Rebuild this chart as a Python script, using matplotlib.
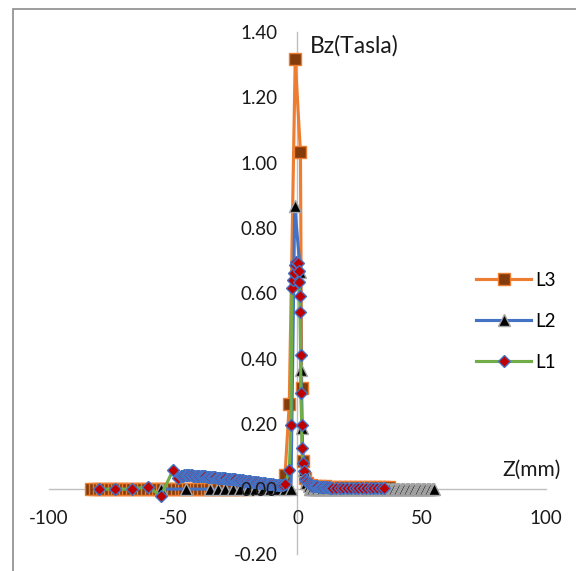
import matplotlib
matplotlib.use("Agg")
import matplotlib.pyplot as plt
from matplotlib.patches import Rectangle

plt.rcParams['font.family'] = ['Lato', 'DejaVu Sans']

# ---------------- data ----------------
# L3 : Bz along line 3
l3_z = [-83, -81.5, -80, -78.5, -77, -75.5, -74, -72.5, -71, -69.5, -68, -66.5,
        -65, -63.5, -62, -60.5, -59, -57.5, -56, -54.5, -53, -51.5, -50, -48.5,
        -47, -45.5, -44, -42.5, -41, -39.5, -38, -36.5, -35, -33.5, -32, -30.5,
        -29, -27.5, -26, -24.5, -23, -20, -16, -12, -9, -7, -5, -3.3, -0.9, 1.2,
        1.7, 2.1, 3.0, 4.0, 5.5, 7, 9, 11, 13, 15, 17, 19, 21, 23, 25, 27, 29,
        31, 33, 35, 37]
l3_b = [0.0] * 41 + [0.0, 0.002, 0.004, 0.006, 0.010, 0.043, 0.260, 1.316, 1.032,
        0.310, 0.087, 0.035, 0.018, 0.012, 0.009, 0.008, 0.008, 0.007, 0.007,
        0.006, 0.006, 0.006, 0.005, 0.005, 0.005, 0.005, 0.005, 0.005, 0.005, 0.005]

# L2 : Bz along line 2
l2_z_left = [-55, -45, -35, -32, -29, -26, -23, -20, -17, -14, -11, -8, -5, -2.6]
l2_b_left = [0.0, 0.0, 0.0, 0.0, 0.0, 0.0, 0.0, 0.0, 0.0, 0.0, 0.0, 0.0, 0.0, 0.0]
l2_z_peak = [-1.1, 1.2, 1.4, 1.8, 2.5, 3.5, 4.5]
l2_b_peak = [0.866, 0.664, 0.365, 0.186, 0.060, 0.020, 0.010]
l2_z_right = [5.0, 5.5, 6.0, 6.5, 7.0, 7.5, 8.0, 8.5, 9.0, 9.5,
              10.0, 10.5, 11.0, 11.5, 12.0, 12.5, 13.0, 13.5, 14.0, 14.5,
              15.0, 15.5, 16.0, 16.5, 17.0, 17.5, 18.0, 18.5, 19.0, 19.5,
              20.0, 20.5, 21.0, 21.5, 22.0, 22.5, 23.0, 23.5, 24.0, 24.5,
              25.0, 25.5, 26.0, 26.5, 27.0, 27.5, 28.0, 28.5, 29.0, 29.5,
              30.0, 30.5, 31.0, 31.5, 32.0, 32.5, 33.0, 33.5, 34.0, 34.5,
              35.0, 35.5, 36.0, 36.5, 37.0, 37.5, 38.0, 38.5, 39.0, 39.5,
              40.0, 40.5, 41.0, 41.5, 42.0, 42.5, 43.0, 43.5, 44.0, 44.5,
              45.0, 45.5, 46.0, 46.5, 47.0, 47.5, 48.0, 48.5, 49.0, 49.5,
              50.0, 50.5, 51.0, 51.5, 52.0, 52.5, 53.0, 53.5, 54.0, 54.5, 55.0]
l2_b_right = [0.0] * 101

# L1 : Bz along line 1
l1_z_left = [-80, -73.3, -66.7, -60, -55, -50, -48]
l1_b_left = [0.0, 0.0, 0.0, 0.007, -0.021, 0.059, 0.033]
l1_z_hump = [-47.0, -46.5, -46.0, -45.5, -45.0, -44.5, -44.0, -43.5, -43.0, -42.5,
             -42.0, -41.5, -41.0, -40.5, -40.0, -39.5, -39.0, -38.5, -38.0, -37.5,
             -37.0, -36.5, -36.0, -35.5, -35.0, -34.5, -34.0, -33.5, -33.0, -32.5,
             -32.0, -31.5, -31.0, -30.5, -30.0, -29.5, -29.0, -28.5, -28.0, -27.5,
             -27.0, -26.5, -26.0, -25.5, -25.0, -24.5, -24.0, -23.5, -23.0, -22.5,
             -22.0, -21.5, -21.0, -20.5, -20.0, -19.5, -19.0, -18.5, -18.0, -17.5,
             -17.0, -16.5, -16.0, -15.5, -15.0, -14.5, -14.0, -13.5, -13.0, -12.5,
             -12.0, -11.5, -11.0, -10.5, -10.0, -9.5, -9.0, -8.5, -8.0, -7.5,
             -7.0, -6.5, -6.0]
l1_b_hump = [0.040, 0.041, 0.041, 0.042, 0.042, 0.042, 0.042, 0.042, 0.042, 0.042,
             0.041, 0.041, 0.041, 0.041, 0.040, 0.040, 0.040, 0.039, 0.039, 0.039,
             0.039, 0.038, 0.038, 0.037, 0.037, 0.037, 0.037, 0.036, 0.036, 0.035,
             0.035, 0.035, 0.035, 0.034, 0.034, 0.033, 0.033, 0.032, 0.032, 0.031,
             0.031, 0.031, 0.031, 0.030, 0.030, 0.029, 0.029, 0.028, 0.028, 0.027,
             0.027, 0.026, 0.026, 0.025, 0.025, 0.024, 0.024, 0.023, 0.023, 0.022,
             0.022, 0.021, 0.021, 0.020, 0.020, 0.019, 0.019, 0.018, 0.018, 0.017,
             0.017, 0.016, 0.016, 0.015, 0.015, 0.014, 0.014, 0.013, 0.013, 0.012,
             0.012, 0.012, 0.012]
l1_z_peak = [-4.9, -3.3, -2.6, -2.2, -1.9, -1.5, -1.0, -0.5, 0.1, 0.5, 0.7, 0.9,
             1.0, 1.3, 1.4, 1.7, 1.8, 2.1, 2.5, 3.0, 3.6]
l1_b_peak = [0.017, 0.058, 0.196, 0.615, 0.640, 0.661, 0.686, 0.697, 0.693, 0.667,
             0.635, 0.591, 0.543, 0.411, 0.293, 0.196, 0.125, 0.081, 0.054, 0.031,
             0.025]
l1_z_tail = [4.0, 4.5, 5.0, 5.5, 6.0, 6.5, 7.0, 7.5, 8.0, 8.5, 9.0, 9.5, 10.0,
             10.5, 11.0, 11.5, 12.0, 12.5, 13.0, 13.5, 14.0]
l1_b_tail = [0.022, 0.018, 0.015, 0.013, 0.011, 0.010, 0.009, 0.008, 0.008,
             0.007, 0.007, 0.006, 0.006, 0.006, 0.005, 0.005, 0.005, 0.005,
             0.004, 0.004, 0.004]
l1_z_right = [15.5, 17, 18.5, 20, 21.5, 23, 24.5, 26, 27.5, 29, 30.5, 32, 33.5, 35]
l1_b_right = [0.003, 0.003, 0.003, 0.002, 0.002, 0.002, 0.002, 0.002, 0.002,
              0.002, 0.002, 0.002, 0.002, 0.002]

x_ticks = [-100, -50, 0, 50, 100]
y_ticks = [-0.20, 0.00, 0.20, 0.40, 0.60, 0.80, 1.00, 1.20, 1.40]

l2_z = l2_z_left + l2_z_peak + l2_z_right
l2_b = l2_b_left + l2_b_peak + l2_b_right
l1_z = l1_z_left + l1_z_hump + l1_z_peak + l1_z_tail + l1_z_right
l1_b = l1_b_left + l1_b_hump + l1_b_peak + l1_b_tail + l1_b_right

# ---------------- figure ----------------
W, H = 576, 571
fig = plt.figure(figsize=(W / 100, H / 100), dpi=100)
fig.patches.append(Rectangle((13 / W, -0.02), 1.1, 1 - 9 / H + 0.02,
                             transform=fig.transFigure, fill=False,
                             edgecolor='#8c8c8c', linewidth=1.2))

ax_l, ax_r = 48.9 / W, 546 / W
ax_top, ax_bot = 32.0 / H, 554.4 / H
ax = fig.add_axes([ax_l, 1 - ax_bot, ax_r - ax_l, ax_bot - ax_top])
ax.set_facecolor('none')

ax.plot(l3_z, l3_b, color='#ED7D31', lw=2.25, marker='s', ms=9,
        mfc='#843C0C', mec='#ED7D31', mew=1.0, label='L3', zorder=3)
ax.plot(l2_z, l2_b, color='#4472C4', lw=2.25, marker='^', ms=8,
        mfc='#000000', mec='#A5A5A5', mew=1.0, label='L2', zorder=4)
ax.plot(l1_z, l1_b, color='#70AD47', lw=2.25, marker='D', ms=6,
        mfc='#C00000', mec='#4472C4', mew=1.0, label='L1', zorder=5)

ax.set_xlim(-100, 100)
ax.set_ylim(-0.2, 1.4)
ax.set_xticks(x_ticks)
ax.set_yticks(y_ticks)
ax.set_xticklabels([str(v) for v in x_ticks])
ax.set_yticklabels([f"{v:.2f}" for v in y_ticks])

for s in ['top', 'right']:
    ax.spines[s].set_visible(False)
ax.spines['left'].set_position(('data', 0))
ax.spines['bottom'].set_position(('data', 0))
for s in ['left', 'bottom']:
    ax.spines[s].set_color('#BFBFBF')
    ax.spines[s].set_linewidth(1.0)
    ax.spines[s].set_zorder(1)

ax.tick_params(axis='x', length=0, pad=15, labelsize=13.5, labelcolor='#1a1a1a')
ax.tick_params(axis='y', length=0, pad=14.5, labelsize=13.5, labelcolor='#1a1a1a')
# y tick labels (incl. "0.00") are drawn over the baseline markers, as in the reference
ax.yaxis.set_zorder(5.5)

fig.text(310 / W, 1 - 46 / H, 'Bz(Tasla)', fontsize=16.5, color='#1a1a1a',
         ha='left', va='center')
fig.text(502 / W, 1 - 470 / H, 'Z(mm)', fontsize=15, color='#1a1a1a',
         ha='left', va='center')

leg = ax.legend(loc='upper left', bbox_to_anchor=(476 / W, 1 - 272 / H),
                bbox_transform=fig.transFigure, frameon=False, fontsize=13.5,
                handlelength=2.95, handletextpad=0.2, labelspacing=1.27,
                borderpad=0, borderaxespad=0)

fig.savefig('out.png', dpi=100)
